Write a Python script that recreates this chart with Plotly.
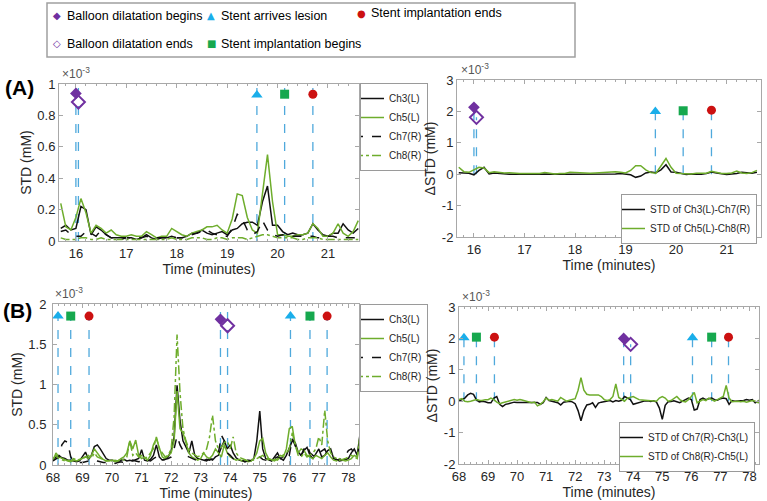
import numpy as np
import plotly.graph_objects as go

W, H = 767, 501

# ---------------- data (values in units of 1e-3 mM) ----------------
t_A = np.round(np.arange(15.7, 21.65, 0.1), 2)   # 60 samples
t_B = np.round(np.arange(68.0, 78.45, 0.1), 2)   # 105 samples

ch3_A = [0.08,0.10,0.07,0.08,0.22,0.20,0.04,0.09,0.07,0.04,
         0.02,0.02,0.02,0.02,0.02,0.01,0.02,0.04,0.02,0.01,
         0.02,0.02,0.03,0.02,0.02,0.03,0.05,0.05,0.07,0.05,
         0.04,0.05,0.06,0.04,0.07,0.08,0.11,0.12,0.12,0.10,
         0.25,0.35,0.10,0.10,0.06,0.04,0.05,0.04,0.04,0.05,
         0.11,0.07,0.04,0.03,0.05,0.05,0.11,0.07,0.05,0.08]
ch5_A = [0.24,0.09,0.07,0.15,0.27,0.18,0.05,0.10,0.08,0.05,
         0.07,0.04,0.03,0.03,0.04,0.03,0.03,0.06,0.04,0.02,
         0.03,0.03,0.08,0.06,0.04,0.03,0.05,0.06,0.07,0.09,
         0.09,0.10,0.07,0.05,0.14,0.30,0.29,0.15,0.07,0.05,
         0.30,0.55,0.25,0.04,0.04,0.03,0.03,0.04,0.04,0.05,
         0.11,0.08,0.03,0.03,0.05,0.11,0.05,0.03,0.06,0.13]
ch7_A = [0.06,0.07,0.04,0.03,0.03,0.06,0.05,0.03,0.07,0.04,
         0.02,0.02,0.01,0.02,0.02,0.02,0.02,0.03,0.02,0.02,
         0.02,0.02,0.03,0.02,0.02,0.03,0.04,0.05,0.06,0.07,
         0.05,0.04,0.03,0.03,0.08,0.17,0.14,0.07,0.04,0.06,
         0.13,0.07,0.04,0.03,0.04,0.03,0.03,0.03,0.03,0.03,
         0.03,0.02,0.02,0.03,0.03,0.02,0.02,0.02,0.02,0.02]
ch8_A = [0.02,0.01,0.01,0.01,0.02,0.02,0.01,0.01,0.02,0.01,
         0.01,0.01,0.01,0.01,0.01,0.01,0.01,0.01,0.01,0.01,
         0.01,0.01,0.02,0.01,0.01,0.01,0.02,0.02,0.02,0.01,
         0.01,0.02,0.02,0.01,0.02,0.02,0.02,0.01,0.02,0.03,
         0.04,0.04,0.03,0.02,0.02,0.02,0.02,0.01,0.01,0.02,
         0.02,0.02,0.01,0.01,0.01,0.01,0.01,0.01,0.01,0.01]

d37_A = [0.05,0.03,0.03,-0.02,0.12,0.22,0.01,0.04,0.02,0.01,
         0.00,0.00,0.01,0.00,0.00,-0.01,0.00,0.01,0.00,-0.01,
         0.00,0.00,0.00,0.00,0.00,0.00,0.01,0.00,0.01,-0.01,
         -0.01,0.01,0.02,0.01,-0.02,-0.10,-0.06,0.04,0.07,0.05,
         0.14,0.30,0.07,0.06,0.02,-0.01,0.01,0.00,0.00,0.02,
         0.07,0.04,0.01,-0.01,0.01,0.02,0.06,0.05,0.03,0.06]
d58_A = [0.22,0.08,0.06,0.13,0.22,0.20,0.05,0.08,0.06,0.04,
         0.05,0.03,0.02,0.02,0.03,0.02,0.02,0.05,0.03,0.01,
         0.02,0.02,0.06,0.05,0.03,0.02,0.03,0.04,0.05,0.07,
         0.07,0.08,0.06,0.04,0.12,0.27,0.27,0.14,0.05,0.03,
         0.26,0.50,0.22,0.03,0.02,0.01,0.01,0.03,0.03,0.03,
         0.09,0.06,0.02,0.02,0.04,0.10,0.04,0.02,0.05,0.12]

ch3_B = [0.06,0.10,0.12,0.09,0.08,0.06,0.06,0.05,0.04,0.05,
         0.10,0.16,0.07,0.12,0.23,0.25,0.20,0.14,0.08,0.06,
         0.06,0.05,0.04,0.06,0.07,0.05,0.06,0.05,0.07,0.08,
         0.19,0.06,0.05,0.07,0.12,0.25,0.10,0.06,0.08,0.10,
         0.18,0.35,0.99,0.55,0.30,0.22,0.15,0.30,0.12,0.08,
         0.07,0.06,0.05,0.08,0.06,0.10,0.12,0.22,0.30,0.20,
         0.25,0.15,0.09,0.06,0.05,0.04,0.06,0.05,0.08,0.30,
         0.67,0.20,0.08,0.06,0.05,0.10,0.15,0.08,0.06,0.12,
         0.20,0.30,0.28,0.16,0.12,0.18,0.22,0.12,0.08,0.15,
         0.20,0.10,0.12,0.18,0.20,0.08,0.06,0.05,0.06,0.07,
         0.08,0.15,0.20,0.12,0.40]
ch5_B = [0.05,0.15,0.10,0.08,0.06,0.05,0.04,0.06,0.05,0.07,
         0.08,0.10,0.08,0.12,0.20,0.15,0.10,0.07,0.05,0.05,
         0.06,0.04,0.05,0.08,0.10,0.15,0.30,0.20,0.31,0.12,
         0.08,0.10,0.06,0.12,0.25,0.33,0.20,0.10,0.08,0.12,
         0.15,0.30,0.92,0.45,0.40,0.28,0.15,0.10,0.08,0.06,
         0.08,0.15,0.10,0.08,0.12,0.20,0.15,0.10,0.25,0.15,
         0.10,0.08,0.06,0.07,0.05,0.06,0.04,0.05,0.08,0.15,
         0.30,0.33,0.15,0.08,0.06,0.05,0.08,0.12,0.10,0.20,
         0.45,0.48,0.25,0.15,0.20,0.18,0.12,0.10,0.08,0.12,
         0.10,0.08,0.12,0.15,0.10,0.06,0.05,0.08,0.06,0.05,
         0.06,0.08,0.12,0.10,0.38]
ch7_B = [0.05,0.08,0.10,0.25,0.30,0.28,0.10,0.05,0.04,0.03,
         0.03,0.04,0.05,0.04,0.06,0.05,0.04,0.03,0.03,0.04,
         0.03,0.02,0.03,0.04,0.03,0.05,0.04,0.06,0.05,0.04,
         0.05,0.04,0.06,0.05,0.08,0.10,0.06,0.05,0.07,0.08,
         0.10,0.20,0.36,0.25,0.18,0.12,0.10,0.08,0.06,0.05,
         0.06,0.05,0.07,0.06,0.08,0.10,0.15,0.37,0.30,0.15,
         0.12,0.08,0.06,0.05,0.06,0.04,0.05,0.06,0.05,0.08,
         0.10,0.07,0.06,0.05,0.06,0.08,0.10,0.08,0.10,0.15,
         0.12,0.33,0.25,0.15,0.12,0.20,0.25,0.15,0.12,0.10,
         0.15,0.18,0.20,0.12,0.10,0.08,0.07,0.06,0.08,0.12,
         0.18,0.20,0.15,0.12,0.30]
ch8_B = [0.08,0.12,0.08,0.06,0.05,0.06,0.05,0.08,0.06,0.07,
         0.08,0.10,0.12,0.08,0.15,0.10,0.08,0.06,0.05,0.06,
         0.05,0.06,0.05,0.08,0.06,0.10,0.30,0.12,0.15,0.10,
         0.12,0.08,0.10,0.15,0.20,0.35,0.20,0.15,0.10,0.12,
         0.20,0.60,1.62,0.90,0.45,0.30,0.20,0.15,0.12,0.10,
         0.12,0.15,0.20,0.35,0.62,0.30,0.20,0.22,0.28,0.30,
         0.20,0.35,0.15,0.10,0.08,0.06,0.05,0.07,0.06,0.08,
         0.10,0.12,0.08,0.06,0.05,0.07,0.06,0.10,0.12,0.15,
         0.20,0.40,0.25,0.12,0.10,0.15,0.10,0.12,0.15,0.20,
         0.35,0.25,0.68,0.30,0.15,0.10,0.08,0.06,0.07,0.08,
         0.10,0.12,0.10,0.08,0.35]

d73_B = [0.00,0.05,0.10,0.20,0.25,0.22,0.04,-0.02,0.00,-0.02,
         -0.05,-0.05,0.10,0.15,-0.10,-0.17,-0.10,-0.08,-0.05,-0.03,
         -0.04,-0.04,-0.03,-0.04,-0.05,-0.03,-0.05,-0.04,-0.10,-0.05,
         0.12,0.02,0.00,-0.03,-0.05,-0.12,-0.03,-0.02,0.00,-0.02,
         -0.08,-0.30,-0.62,-0.30,-0.12,-0.10,-0.05,-0.20,-0.06,-0.03,
         -0.02,-0.01,0.02,-0.02,0.02,0.00,0.03,0.15,0.10,0.05,
         -0.10,-0.07,-0.03,0.00,0.01,0.01,-0.01,0.01,-0.03,-0.22,
         -0.58,-0.13,-0.02,-0.01,0.01,-0.02,-0.05,0.00,0.04,0.10,
         0.05,-0.28,-0.25,0.05,0.10,0.05,0.08,0.10,0.05,0.03,
         0.08,0.10,0.08,-0.10,0.02,0.00,0.01,0.01,0.02,0.05,
         0.03,0.05,-0.05,0.00,-0.05]
d85_B = [0.05,0.08,0.00,-0.02,0.00,0.02,0.05,0.03,0.02,0.05,
         0.05,0.10,0.05,-0.03,-0.08,-0.05,-0.02,0.00,0.02,0.05,
         0.03,0.05,0.03,0.00,-0.03,-0.05,-0.03,-0.15,-0.10,-0.02,
         0.10,0.03,0.05,0.02,0.00,0.12,0.05,0.00,0.03,0.05,
         0.08,0.35,0.75,0.35,0.22,0.20,0.20,0.18,0.20,0.15,
         0.05,0.02,0.05,0.15,0.55,0.12,0.05,0.00,0.10,0.12,
         0.15,0.10,0.05,0.04,0.03,0.02,0.02,0.01,0.00,0.10,
         0.15,0.10,0.00,0.02,0.10,0.15,0.05,0.00,-0.02,0.05,
         0.15,0.28,-0.05,0.00,0.05,0.02,0.10,0.05,0.00,0.05,
         0.10,0.15,0.50,0.10,-0.02,0.00,0.00,-0.02,0.00,-0.03,
         0.00,0.02,0.00,-0.05,0.15]

# events: time, kind, marker height on left panel, marker height on right panel
evA_t = [16.0, 16.05, 19.59, 20.14, 20.70]
evA_kind = ["bb", "be", "sa", "sb", "se"]
evA_yL = [0.94, 0.885, 0.93, 0.935, 0.935]
evA_yR = [2.13, 1.81, 2.00, 2.02, 2.04]
evB_t = [68.17, 68.60, 69.22, 73.67, 73.91, 76.04, 76.70, 77.28]
evB_kind = ["sa", "sb", "se", "bb", "be", "sa", "sb", "se"]
evB_yL = [1.85, 1.85, 1.85, 1.81, 1.73, 1.85, 1.85, 1.85]
evB_yR = [2.02, 2.04, 2.04, 2.00, 1.81, 2.02, 2.04, 2.04]

event_names = {"bb": "Balloon dilatation begins", "be": "Balloon dilatation ends",
               "sa": "Stent arrives lesion", "sb": "Stent implantation begins",
               "se": "Stent implantation ends"}

# ---------------- styles ----------------
FONT = "Liberation Sans, Arial, sans-serif"
GREEN = "#6EAD2C"
BLACK = "#111111"
EVLINE = "#4FA9DC"
AXC = "#A8A8A8"
TXT = "#262626"
ev_style = {
    "bb": dict(symbol="diamond", color="#7030A0", size=9),
    "be": dict(symbol="diamond-open", color="#7030A0", size=10, line=dict(width=2, color="#7030A0")),
    "sa": dict(symbol="triangle-up", color="#1AAEEA", size=10),
    "sb": dict(symbol="square", color="#16A84E", size=9),
    "se": dict(symbol="circle", color="#CC1111", size=9),
}

fig = go.Figure()

def add_events(ts, kinds, ymk, xa, ya, full_top):
    for t, k, y in zip(ts, kinds, ymk):
        top = full_top if full_top is not None else y
        fig.add_trace(go.Scatter(x=[t, t], y=[0, top], mode="lines", xaxis=xa, yaxis=ya,
                                 line=dict(color=EVLINE, width=1.3, dash="dash"),
                                 showlegend=False, hoverinfo="skip"))

def add_markers(ts, kinds, ymk, xa, ya):
    for t, k, y in zip(ts, kinds, ymk):
        fig.add_trace(go.Scatter(x=[t], y=[y], mode="markers", xaxis=xa, yaxis=ya,
                                 marker=ev_style[k], name=event_names[k],
                                 showlegend=False))

def add_line(x, y, name, color, dash, xa, ya, leg):
    fig.add_trace(go.Scatter(x=x, y=y, mode="lines", name=name, xaxis=xa, yaxis=ya,
                             line=dict(color=color, width=1.5, dash=dash), legend=leg))

# (A) left
add_events(evA_t, evA_kind, evA_yL, "x", "y", 1.0)
add_line(t_A, ch3_A, "Ch3(L)", BLACK, "solid", "x", "y", "legend")
add_line(t_A, ch5_A, "Ch5(L)", GREEN, "solid", "x", "y", "legend")
add_line(t_A, ch7_A, "Ch7(R)", BLACK, "dash", "x", "y", "legend")
add_line(t_A, ch8_A, "Ch8(R)", GREEN, "dashdot", "x", "y", "legend")
add_markers(evA_t, evA_kind, evA_yL, "x", "y")
# (A) right
add_events(evA_t, evA_kind, evA_yR, "x2", "y2", None)
add_line(t_A, d37_A, "STD of Ch3(L)-Ch7(R)", BLACK, "solid", "x2", "y2", "legend2")
add_line(t_A, d58_A, "STD of Ch5(L)-Ch8(R)", GREEN, "solid", "x2", "y2", "legend2")
add_markers(evA_t, evA_kind, evA_yR, "x2", "y2")
# (B) left
add_events(evB_t, evB_kind, evB_yL, "x3", "y3", 2.0)
add_line(t_B, ch3_B, "Ch3(L)", BLACK, "solid", "x3", "y3", "legend3")
add_line(t_B, ch5_B, "Ch5(L)", GREEN, "solid", "x3", "y3", "legend3")
add_line(t_B, ch7_B, "Ch7(R)", BLACK, "dash", "x3", "y3", "legend3")
add_line(t_B, ch8_B, "Ch8(R)", GREEN, "dashdot", "x3", "y3", "legend3")
add_markers(evB_t, evB_kind, evB_yL, "x3", "y3")
# (B) right
add_events(evB_t, evB_kind, evB_yR, "x4", "y4", None)
add_line(t_B, d73_B, "STD of Ch7(R)-Ch3(L)", BLACK, "solid", "x4", "y4", "legend4")
add_line(t_B, d85_B, "STD of Ch8(R)-Ch5(L)", GREEN, "solid", "x4", "y4", "legend4")
add_markers(evB_t, evB_kind, evB_yR, "x4", "y4")

def px_x(p): return p / W
def px_y(p): return 1 - p / H

def xax(dom, rng, anchor, ticks, lab_shift):
    return dict(domain=dom, range=rng, anchor=anchor, tickvals=ticks,
                showline=True, linecolor=AXC, linewidth=1, mirror="ticks", ticks="inside",
                ticklen=4, tickcolor=AXC, showgrid=False, zeroline=False, automargin=False,
                ticklabelstandoff=lab_shift,
                tickfont=dict(family=FONT, size=13, color=TXT),
                minor=dict(ticks="inside", ticklen=2, dtick=0.2, tickcolor=AXC, showgrid=False),
                title=dict(text="Time (minutes)", font=dict(family=FONT, size=14, color=TXT), standoff=0))

def yax(dom, rng, anchor, ticks, labels, title, lab_shift=0):
    return dict(domain=dom, range=rng, anchor=anchor, tickvals=ticks, ticktext=labels,
                showline=True, linecolor=AXC, linewidth=1, mirror="ticks", ticks="inside",
                ticklen=4, tickcolor=AXC, showgrid=False, zeroline=False, automargin=False,
                ticklabelstandoff=lab_shift,
                tickfont=dict(family=FONT, size=13, color=TXT),
                title=dict(text=title, font=dict(family=FONT, size=14, color=TXT), standoff=2))

fig.update_layout(
    width=W, height=H, margin=dict(l=0, r=0, t=0, b=0, autoexpand=False),
    paper_bgcolor="white", plot_bgcolor="white",
    font=dict(family=FONT, color=TXT),
    xaxis=xax([px_x(59), px_x(359)], [15.665, 21.615], "y", [16, 17, 18, 19, 20, 21], 0),
    yaxis=yax([px_y(241), px_y(84)], [0, 1], "x", [0, 0.2, 0.4, 0.6, 0.8, 1],
              ["0", "0.2", "0.4", "0.6", "0.8", "1"], "STD (mM)"),
    xaxis2=xax([px_x(457), px_x(761)], [15.665, 21.68], "y2", [16, 17, 18, 19, 20, 21], 0),
    yaxis2=yax([px_y(237), px_y(80)], [-2, 3], "x2", [-2, -1, 0, 1, 2, 3],
               ["-2", "-1", "0", "1", "2", "3"], "ΔSTD (mM)"),
    xaxis3=xax([px_x(53), px_x(359)], [68, 78.36], "y3", list(range(68, 79)), 0),
    yaxis3=yax([px_y(465), px_y(304)], [0, 2], "x3", [0, 0.5, 1, 1.5, 2],
               ["0", "0.5", "1", "1.5", "2"], "STD (mM)", 3),
    xaxis4=xax([px_x(459), px_x(759)], [68, 78.33], "y4", list(range(68, 79)), 0),
    yaxis4=yax([px_y(464), px_y(307)], [-2, 3], "x4", [-2, -1, 0, 1, 2, 3],
               ["-2", "-1", "0", "1", "2", "3"], "ΔSTD (mM)"),
)

leg_common = dict(bgcolor="white", bordercolor="#9A9A9A", borderwidth=1,
                  font=dict(family=FONT, size=10, color=TXT), tracegroupgap=0,
                  itemwidth=30, indentation=-12, yanchor="top")
fig.update_layout(
    legend=dict(leg_common, x=px_x(360), y=px_y(83), xanchor="left"),
    legend2=dict(leg_common, x=px_x(757), y=px_y(194), xanchor="right"),
    legend3=dict(leg_common, x=px_x(360), y=px_y(304), xanchor="left"),
    legend4=dict(leg_common, x=px_x(755), y=px_y(422), xanchor="right"),
)

ann = []
# exponent labels
for xp, yp in [(60, 83), (459, 79), (53, 303), (460, 306)]:
    ann.append(dict(x=px_x(xp), y=px_y(yp), xref="paper", yref="paper", xanchor="left",
                    yanchor="bottom", showarrow=False, text="×10<sup>-3</sup>",
                    font=dict(family=FONT, size=12, color="#555555")))
# panel labels
ann.append(dict(x=px_x(3), y=px_y(88), xref="paper", yref="paper", xanchor="left", yanchor="middle",
                showarrow=False, text="<b>(A)</b>", font=dict(family=FONT, size=21, color="black")))
ann.append(dict(x=px_x(1), y=px_y(310), xref="paper", yref="paper", xanchor="left", yanchor="middle",
                showarrow=False, text="<b>(B)</b>", font=dict(family=FONT, size=21, color="black")))

# event legend (top box): symbol and label
ev_leg = [("bb", 57, 16), ("sa", 211, 16), ("se", 361, 13), ("be", 57, 44), ("sb", 211, 44)]
sym = {"bb": "◆", "be": "◇", "sa": "▲", "sb": "■", "se": "●"}
for k, xp, yp in ev_leg:
    col = ev_style[k]["color"]
    ann.append(dict(x=px_x(xp), y=px_y(yp), xref="paper", yref="paper", xanchor="center",
                    yanchor="middle", showarrow=False, text=sym[k],
                    font=dict(family="DejaVu Sans", size=10, color=col)))
    ann.append(dict(x=px_x(xp + 8), y=px_y(yp), xref="paper", yref="paper", xanchor="left",
                    yanchor="middle", showarrow=False, text=event_names[k],
                    font=dict(family=FONT, size=12.5, color="black")))
fig.update_layout(annotations=ann)
fig.add_shape(type="rect", xref="paper", yref="paper", x0=px_x(47), x1=px_x(575),
              y0=px_y(57), y1=px_y(3), line=dict(color="#A0A0A0", width=1.5), fillcolor="rgba(0,0,0,0)")

fig.write_html("out.html")
